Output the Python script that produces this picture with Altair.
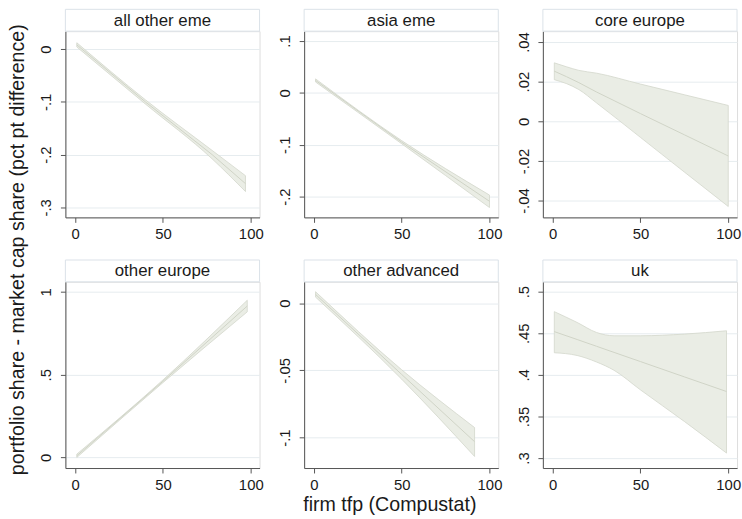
import altair as alt
import pandas as pd

FONT = "Liberation Sans"

# ---- data ----
panel_names = ["all other eme", "asia eme", "core europe",
               "other europe", "other advanced", "uk"]

x_p1 = [1, 40, 78, 97]
fit_p1 = [0.008, -0.100, -0.200, -0.255]
lo_p1 = [0.004, -0.104, -0.208, -0.270]
hi_p1 = [0.012, -0.096, -0.192, -0.240]

x_p2 = [1, 50, 100]
fit_p2 = [0.024, -0.095, -0.209]
lo_p2 = [0.021, -0.098, -0.221]
hi_p2 = [0.027, -0.092, -0.197]

x_p3 = [1, 8, 15, 25, 50, 75, 100]
fit_p3 = [0.0253, 0.0225, 0.0195, 0.0148, 0.0039, -0.0068, -0.0175]
lo_p3 = [0.0210, 0.0190, 0.0160, 0.0093, -0.0081, -0.0256, -0.0430]
hi_p3 = [0.0295, 0.0275, 0.0257, 0.0243, 0.0188, 0.0134, 0.0080]

x_p4 = [1, 50, 98]
fit_p4 = [0.010, 0.460, 0.915]
lo_p4 = [0.000, 0.452, 0.880]
hi_p4 = [0.020, 0.468, 0.950]

x_p5 = [1, 50, 91.5]
fit_p5 = [0.0065, -0.0530, -0.1030]
lo_p5 = [0.0045, -0.0565, -0.1140]
hi_p5 = [0.0085, -0.0495, -0.0925]

x_p6 = [1, 14, 25, 35, 50, 75, 99]
fit_p6 = [0.452, 0.4425, 0.4344, 0.427, 0.416, 0.3976, 0.380]
lo_p6 = [0.4266, 0.4233, 0.4155, 0.4055, 0.382, 0.344, 0.306]
hi_p6 = [0.476, 0.463, 0.451, 0.447, 0.447, 0.449, 0.453]

y_domains = [[-0.319, 0.034], [-0.240, 0.119], [-0.0485, 0.0455],
             [-0.064, 1.0616], [-0.1226, 0.0159], [0.288, 0.5119]]
y_ticks = [[0, -0.1, -0.2, -0.3], [0.1, 0, -0.1, -0.2],
           [0.04, 0.02, 0, -0.02, -0.04], [0, 0.5, 1],
           [0, -0.05, -0.1], [0.3, 0.35, 0.4, 0.45, 0.5]]
x_ticks = [0, 50, 100]
x_domain = [-5.5, 105]

x_title = "firm tfp (Compustat)"
y_title = "portfolio share - market cap share (pct pt difference)"

# ---- style ----
W, H, HH = 196, 188, 22
BAND = "#eaede5"
EDGE = "#d3d7cb"
FITC = "#cfd3c6"
GRID = "#e6ecef"
BOX = "#dbe2e8"
AXC = "#555555"
TXT = "#1a1a1a"

LABEL_EXPR = ("(datum.value < 0 ? '-' : '') + "
              "replace(format(abs(datum.value), '~g'), '0.', '.')")

AX_COMMON = dict(labelFont=FONT, labelFontSize=15, labelColor=TXT,
                 domainColor=AXC, tickColor=AXC, tickSize=5,
                 domainWidth=1, tickWidth=1, labelExpr=LABEL_EXPR,
                 title=None)


def panel(name, xs, lo, hi, fit, ydom, yt, with_xtitle=False):
    df = pd.DataFrame({"x": xs, "lo": lo, "hi": hi, "fit": fit})
    xkw = dict(AX_COMMON, values=x_ticks, grid=False, labelPadding=4.5)
    if with_xtitle:
        xkw.update(title=x_title, titleFont=FONT, titleFontSize=19.8,
                   titleFontWeight="normal", titleColor=TXT,
                   titleX=86, titleY=37, titleBaseline="middle",
                   titleAlign="center")
    xaxis = alt.Axis(**xkw)
    yaxis = alt.Axis(**AX_COMMON, values=yt, grid=True, gridColor=GRID,
                     gridWidth=1, labelAngle=270, labelAlign="center",
                     labelBaseline="bottom", labelPadding=7)
    xs_enc = alt.X("x:Q", scale=alt.Scale(domain=x_domain, nice=False,
                                          zero=False), axis=xaxis)
    ysc = alt.Scale(domain=ydom, nice=False, zero=False)
    area = alt.Chart(df).mark_area(fill=BAND, stroke=EDGE, strokeWidth=0.8,
                                   opacity=1, interpolate="monotone").encode(
        x=xs_enc, y=alt.Y("lo:Q", scale=ysc, axis=yaxis), y2="hi:Q")
    line = alt.Chart(df).mark_line(color=FITC, strokeWidth=1).encode(
        x=xs_enc, y=alt.Y("fit:Q", scale=ysc, axis=yaxis))
    hdr = alt.Chart(pd.DataFrame({"t": [name]}))
    box = hdr.mark_rect(fill="white", stroke=BOX, strokeWidth=1).encode(
        x=alt.value(0), x2=alt.value(W), y=alt.value(-HH), y2=alt.value(0))
    txt = hdr.mark_text(font=FONT, fontSize=17, color=TXT,
                        baseline="middle", align="center").encode(
        x=alt.value(W / 2), y=alt.value(-HH / 2 + 0.5), text="t:N")
    return alt.layer(area, line, box, txt).properties(width=W, height=H)


p1 = panel(panel_names[0], x_p1, lo_p1, hi_p1, fit_p1, y_domains[0], y_ticks[0])
p2 = panel(panel_names[1], x_p2, lo_p2, hi_p2, fit_p2, y_domains[1], y_ticks[1])
p3 = panel(panel_names[2], x_p3, lo_p3, hi_p3, fit_p3, y_domains[2], y_ticks[2])
p4 = panel(panel_names[3], x_p4, lo_p4, hi_p4, fit_p4, y_domains[3], y_ticks[3])
p5 = panel(panel_names[4], x_p5, lo_p5, hi_p5, fit_p5, y_domains[4], y_ticks[4],
           with_xtitle=True)
p6 = panel(panel_names[5], x_p6, lo_p6, hi_p6, fit_p6, y_domains[5], y_ticks[5])

row1 = alt.hconcat(p1, p2, p3, spacing=12)
row2 = alt.hconcat(p4, p5, p6, spacing=12)

chart = alt.vconcat(row1, row2, spacing=17).properties(
    title=alt.TitleParams(text=y_title, orient="left", anchor="middle",
                          font=FONT, fontSize=19.8, fontWeight="normal",
                          color=TXT, offset=10, dx=12),
    padding={"left": 8, "top": 6, "right": 0, "bottom": 0},
).configure_view(strokeWidth=0).configure(background="white")

chart.save("out.html", embed_options={"renderer": "svg", "actions": False})
